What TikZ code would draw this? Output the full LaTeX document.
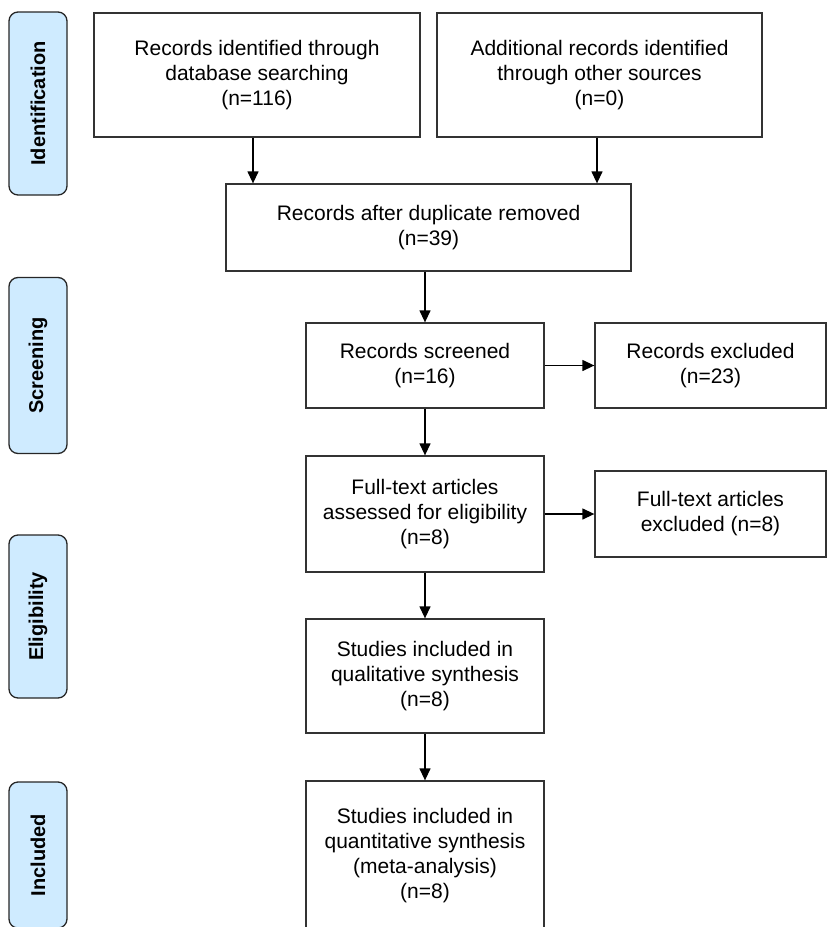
\documentclass[tikz,border=0pt]{standalone}
\usepackage{fontspec}
\setmainfont{Liberation Sans}
\usetikzlibrary{arrows.meta}

\definecolor{phaseblue}{RGB}{207,235,255}

\begin{document}
\begin{tikzpicture}[x=1pt, y=-1pt,
    box/.style={draw=black!80, line width=1.3pt, align=center, inner sep=0pt,
        font=\fontsize{21}{25}\selectfont},
    phase/.style={draw=black!85, fill=phaseblue, rounded corners=9pt, line width=1.3pt,
        rotate=90, minimum height=58pt, inner sep=0pt,
        font=\bfseries\fontsize{20}{22}\selectfont},
    arr/.style={-{Triangle[length=12pt,width=11pt]}, line width=1.3pt}]
    \useasboundingbox (0,0) rectangle (836,927);

    % phases on the left
    \node[phase, minimum width=183pt] (ident) at (38,103.5) {Identification};
    \node[phase, minimum width=176pt] (scr) at (38,365.5) {Screening};
    \node[phase, minimum width=163pt] (elig) at (38,616.5) {Eligibility};
    \node[phase, minimum width=146pt] (incl) at (38,855) {Included};

    % identification
    \node[box, minimum width=326pt, minimum height=124pt] (dbase) at (257,75)
        {Records identified through\\database searching\\(n=116)};
    \node[box, minimum width=325pt, minimum height=124pt] (other) at (599.5,75)
        {Additional records identified\\through other sources\\(n=0)};
    \node[box, minimum width=405pt, minimum height=87pt] (dup) at (428.5,227.5)
        {Records after duplicate removed\\(n=39)};

    % screening
    \node[box, minimum width=238pt, minimum height=85pt] (screened) at (425,365.5)
        {Records screened\\(n=16)};
    \node[box, minimum width=231pt, minimum height=85pt] (excl) at (710.5,365.5)
        {Records excluded\\(n=23)};

    % eligibility
    \node[box, minimum width=238pt, minimum height=116pt] (full) at (425,514)
        {Full-text articles\\assessed for eligibility\\(n=8)};
    \node[box, minimum width=231pt, minimum height=86pt] (fullexcl) at (710.5,514)
        {Full-text articles\\excluded (n=8)};
    \node[box, minimum width=238pt, minimum height=114pt] (qual) at (425,676)
        {Studies included in\\qualitative synthesis\\(n=8)};

    % included
    \node[box, minimum width=238pt, minimum height=150pt] (quant) at (425,856)
        {Studies included in\\quantitative synthesis\\(meta-analysis)\\(n=8)};

    \draw[arr] (dbase.south -| 253,0) -- (dup.north -| 253,0);
    \draw[arr] (other.south -| 597,0) -- (dup.north -| 597,0);
    \draw[arr] (dup.south -| screened.north) -- (screened.north);
    \draw[arr] (screened) -- (excl);
    \draw[arr] (screened) -- (full);
    \draw[arr] (full) -- (fullexcl);
    \draw[arr] (full) -- (qual);
    \draw[arr] (qual) -- (quant);
\end{tikzpicture}
\end{document}
